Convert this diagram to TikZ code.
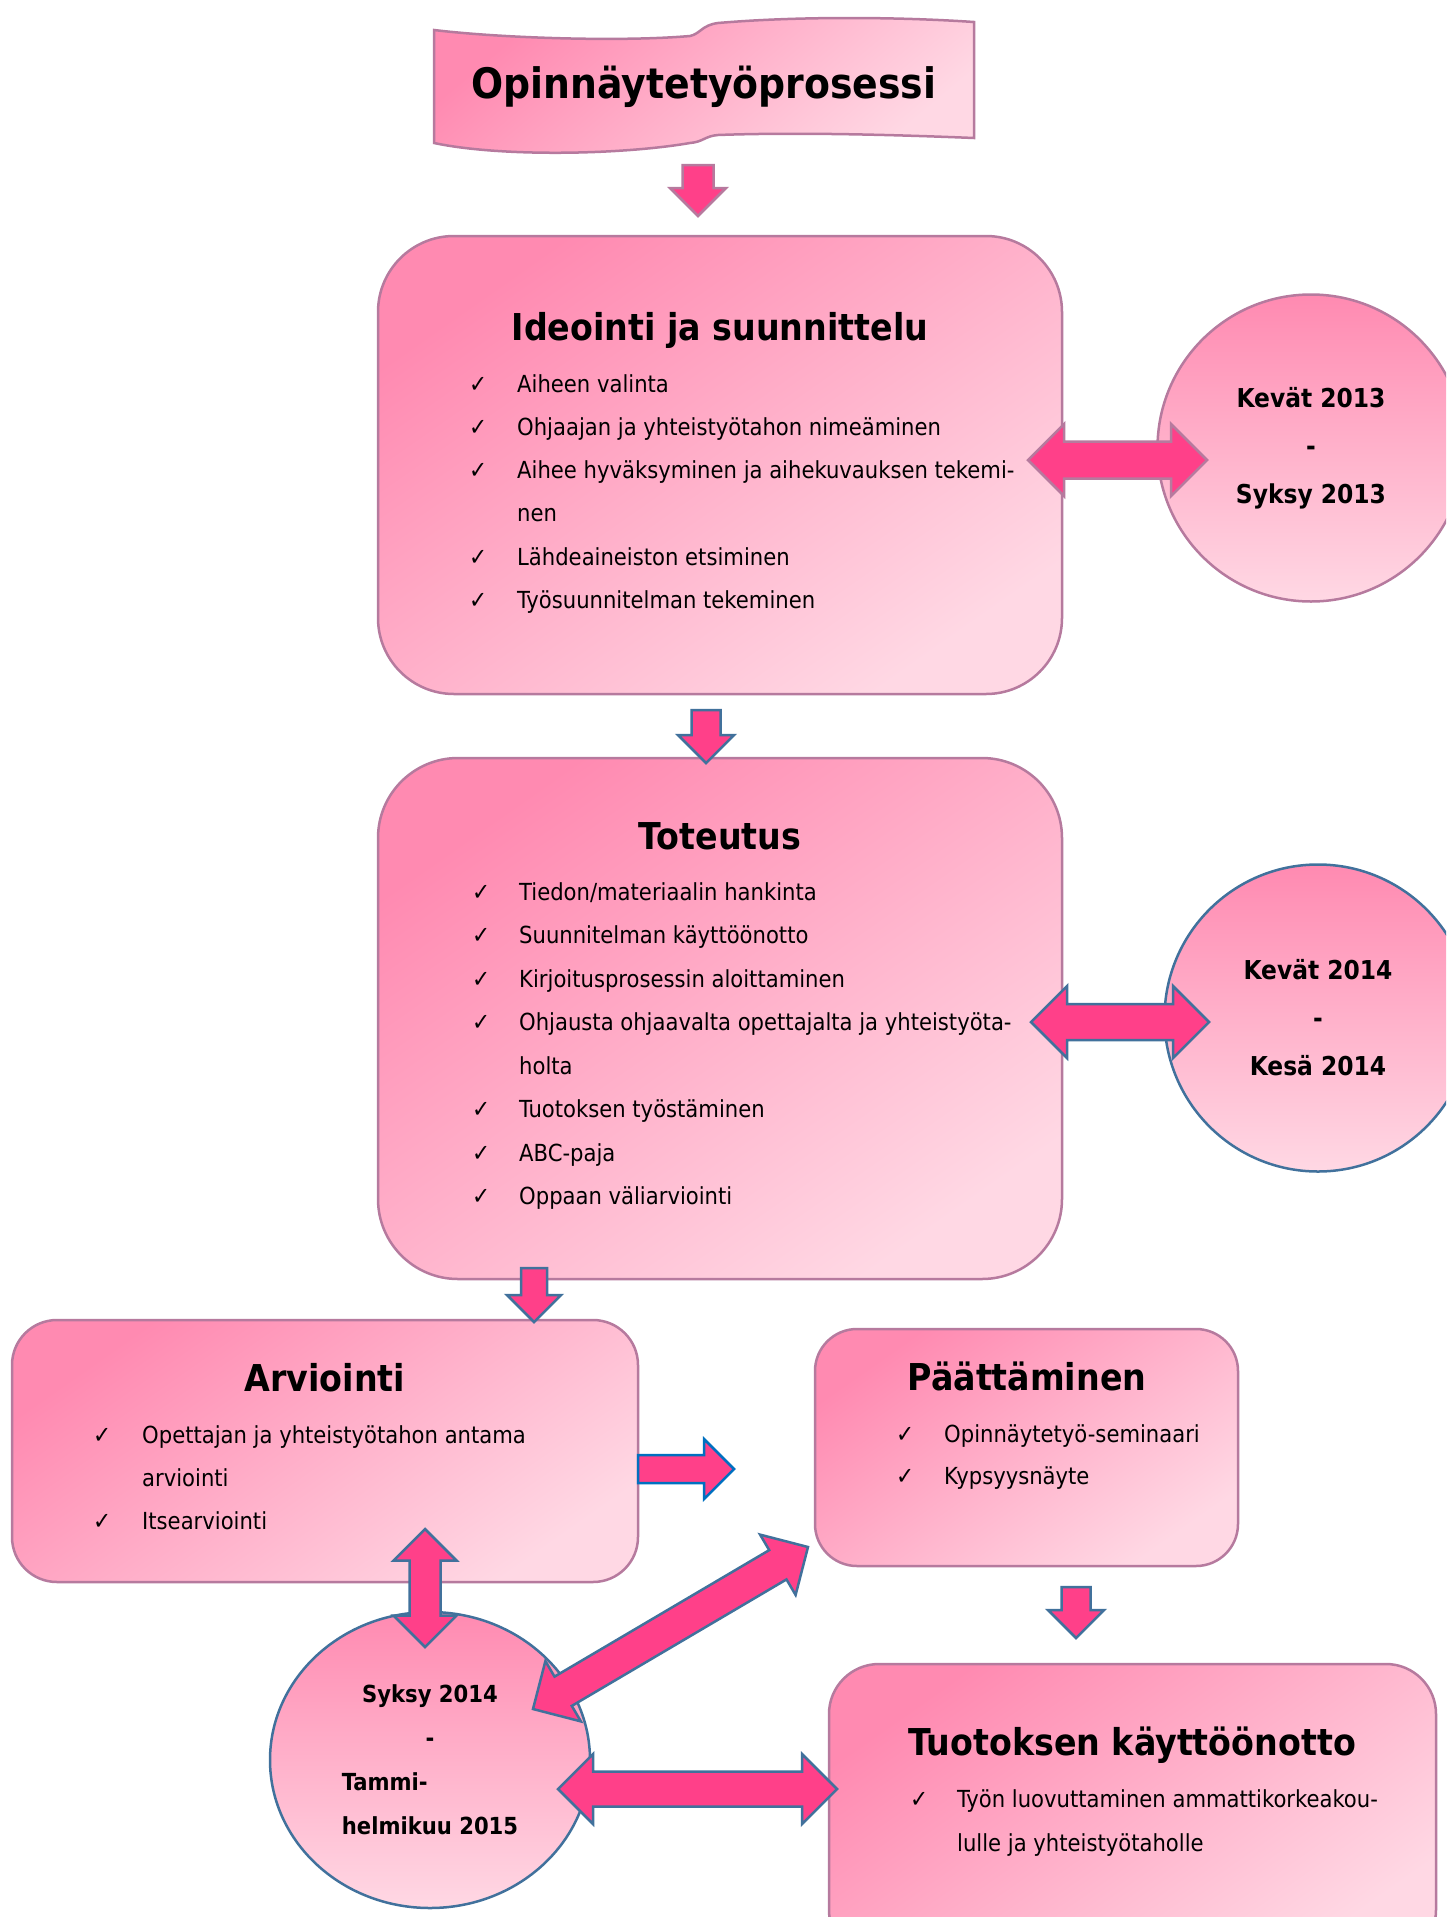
\documentclass[tikz,border=0pt]{standalone}
\usepackage{fontspec}
\setmainfont{DejaVu Sans Condensed}
\usetikzlibrary{calc,positioning,shapes.geometric}

\definecolor{pinkdark}{RGB}{255,138,177}
\definecolor{pinklight}{RGB}{255,216,228}
\definecolor{arrowpink}{RGB}{255,64,137}
\definecolor{mauve}{RGB}{182,122,158}
\definecolor{steelblue}{RGB}{65,113,156}
\definecolor{brightblue}{RGB}{0,112,192}

% block arrows: style, tail, tip, shaft half width, head half width
\newcommand{\blockarrow}[5]{%
  \coordinate (hb) at ($(#3)!#5!(#2)$);
  \draw[#1] ($(#2)!#4!90:(#3)$) -- ($(hb)!#4!-90:(#2)$) -- ($(hb)!#5!-90:(#2)$) -- (#3)
    -- ($(hb)!#5!90:(#2)$) -- ($(hb)!#4!90:(#2)$) -- ($(#2)!#4!-90:(#3)$) -- cycle;
}
\newcommand{\dblarrow}[5]{%
  \coordinate (ha) at ($(#2)!#5!(#3)$);
  \coordinate (hb) at ($(#3)!#5!(#2)$);
  \draw[#1] (#2) -- ($(ha)!#5!90:(#3)$) -- ($(ha)!#4!90:(#3)$) -- ($(hb)!#4!-90:(#2)$)
    -- ($(hb)!#5!-90:(#2)$) -- (#3) -- ($(hb)!#5!90:(#2)$) -- ($(hb)!#4!90:(#2)$)
    -- ($(ha)!#4!-90:(#3)$) -- ($(ha)!#5!-90:(#3)$) -- cycle;
}

\tikzset{
  phase/.style={rectangle, draw=mauve, line width=2.5pt, inner sep=0pt,
    top color=pinkdark, bottom color=pinklight, shading angle=35},
  period/.style={circle, line width=2.5pt, inner sep=0pt, minimum size=307pt, align=center,
    top color=pinkdark, bottom color=pinklight, font=\fontsize{26}{48}\selectfont\bfseries},
  phasetitle/.style={anchor=base, inner sep=0pt, font=\fontsize{37}{40}\selectfont\bfseries},
  item/.style={anchor=base west, inner sep=0pt, font=\fontsize{23.5}{28}\selectfont},
  tick/.style={anchor=base west, inner sep=0pt, font=\fontsize{24}{28}\selectfont},
  blockarrow/.style={fill=arrowpink, line width=2.5pt, line join=miter},
}

\begin{document}
\begin{tikzpicture}[x=1pt,y=-1pt]
\useasboundingbox (0,0) rectangle (1446,1917);
\clip (0,0) rectangle (1446,1917);

% banner
\draw[draw=mauve, line width=2.5pt, top color=pinkdark, bottom color=pinklight, shading angle=40]
  (434,30) .. controls (500,38) and (620,42) .. (690,36)
  .. controls (700,34) and (702,25) .. (718,23)
  .. controls (800,16) and (900,17) .. (974,22) -- (974,138)
  .. controls (900,135) and (800,132) .. (718,135)
  .. controls (705,136) and (703,142) .. (690,143)
  .. controls (620,155) and (500,157) .. (434,143) -- cycle;
\node[anchor=base, inner sep=0pt, font=\fontsize{42}{48}\selectfont\bfseries] (title) at (704,98) {Opinnäytetyöprosessi};

% phases
\node[phase, minimum width=684pt, minimum height=458pt, rounded corners=76pt] (idea) at (720,465) {};
\node[phase, minimum width=684pt, minimum height=521pt, rounded corners=80pt] (impl) at (720,1018.5) {};
\node[phase, minimum width=626pt, minimum height=262pt, rounded corners=45pt] (eval) at (325,1451) {};
\node[phase, minimum width=423pt, minimum height=237pt, rounded corners=42pt] (close) at (1026.5,1447.5) {};
\node[phase, minimum width=607pt, minimum height=296pt, rounded corners=50pt] (usage) at (1132.5,1812) {};

% periods
\node[period, draw=mauve] (spring13) at (1311,448) {Kevät 2013\\-\\Syksy 2013};
\node[period, draw=steelblue] (spring14) at (1318,1018) {Kevät 2014\\-\\Kesä 2014};
\node[period, ellipse, minimum width=320pt, minimum height=296pt, draw=steelblue,
  font=\fontsize{23.5}{44}\selectfont\bfseries] (autumn14) at (430,1760)
  {Syksy 2014\\-\\\rlap{Tammi-}\phantom{helmikuu 2015}\\helmikuu 2015};

% titles
\node[phasetitle] (ideatitle) at (720,340) {Ideointi ja suunnittelu};
\node[phasetitle] (impltitle) at (720,849) {Toteutus};
\node[phasetitle] (evaltitle) at (325,1391) {Arviointi};
\node[phasetitle] (closetitle) at (1027,1390) {Päättäminen};
\node[phasetitle] (usagetitle) at (1132,1755) {Tuotoksen käyttöönotto};

% lists
\foreach \n/\txt in {0/Aiheen valinta, 1/Ohjaajan ja yhteistyötahon nimeäminen,
    2/Aihee hyväksyminen ja aihekuvauksen tekemi-, 4/Lähdeaineiston etsiminen,
    5/Työsuunnitelman tekeminen} {
  \node[tick] (ideachk\n) at (469,392+43.3*\n) {✓};
  \node[item] (idea\n) at (517,392+43.3*\n) {\txt};
}
\node[item] (idea3) at (517,392+43.3*3) {nen};

\foreach \n/\txt in {0/{Tiedon/materiaalin hankinta}, 1/Suunnitelman käyttöönotto,
    2/Kirjoitusprosessin aloittaminen, 3/Ohjausta ohjaavalta opettajalta ja yhteistyöta-,
    5/Tuotoksen työstäminen, 6/ABC-paja, 7/Oppaan väliarviointi} {
  \node[tick] (implchk\n) at (472,900+43.5*\n) {✓};
  \node[item] (impl\n) at (519,900+43.5*\n) {\txt};
}
\node[item] (impl4) at (519,900+43.5*4) {holta};

\foreach \n/\txt in {0/Opettajan ja yhteistyötahon antama, 2/Itsearviointi} {
  \node[tick] (evalchk\n) at (93,1443+43.4*\n) {✓};
  \node[item] (eval\n) at (142,1443+43.4*\n) {\txt};
}
\node[item] (eval1) at (142,1443+43.4) {arviointi};

\foreach \n/\txt in {0/Opinnäytetyö-seminaari, 1/Kypsyysnäyte} {
  \node[tick] (closechk\n) at (896,1442+42.8*\n) {✓};
  \node[item] (close\n) at (944,1442+42.8*\n) {\txt};
}

\node[tick] (usagechk0) at (910,1807) {✓};
\node[item] (usage0) at (957,1807) {Työn luovuttaminen ammattikorkeakou-};
\node[item] (usage1) at (957,1851) {lulle ja yhteistyötaholle};

% arrows
\coordinate (a1s) at (698,165);  \coordinate (a1e) at (698,216);
\coordinate (a2s) at (706,710);  \coordinate (a2e) at (706,763);
\coordinate (a3s) at (534,1268); \coordinate (a3e) at (534,1322);
\coordinate (a4s) at (638,1469); \coordinate (a4e) at (734,1469);
\coordinate (a5s) at (1076,1587); \coordinate (a5e) at (1076,1638);
\blockarrow{blockarrow, draw=mauve}{a1s}{a1e}{15.5pt}{28pt}
\blockarrow{blockarrow, draw=steelblue}{a2s}{a2e}{14.5pt}{28pt}
\blockarrow{blockarrow, draw=steelblue}{a3s}{a3e}{13pt}{27pt}
\blockarrow{blockarrow, draw=brightblue}{a4s}{a4e}{14pt}{30pt}
\blockarrow{blockarrow, draw=steelblue}{a5s}{a5e}{14.5pt}{28pt}

\coordinate (d1a) at (1028,460);  \coordinate (d1b) at (1207,460);
\coordinate (d2a) at (1031,1022); \coordinate (d2b) at (1209,1022);
\coordinate (d3a) at (425,1529);  \coordinate (d3b) at (425,1647);
\coordinate (d4a) at (533,1709);  \coordinate (d4b) at (808,1547);
\coordinate (d5a) at (558,1789);  \coordinate (d5b) at (837,1789);
\dblarrow{blockarrow, draw=mauve}{d1a}{d1b}{18.5pt}{36pt}
\dblarrow{blockarrow, draw=steelblue}{d2a}{d2b}{18pt}{36pt}
\dblarrow{blockarrow, draw=steelblue}{d3a}{d3b}{15.5pt}{31.5pt}
\dblarrow{blockarrow, draw=steelblue}{d4a}{d4b}{17pt}{35pt}
\dblarrow{blockarrow, draw=steelblue}{d5a}{d5b}{17.5pt}{35pt}
\end{tikzpicture}
\end{document}
